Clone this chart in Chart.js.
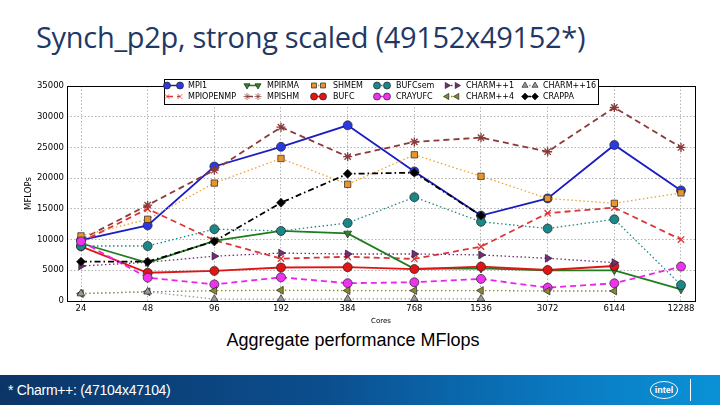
<!DOCTYPE html>
<html>
<head>
<meta charset="utf-8">
<script src="https://cdn.jsdelivr.net/npm/chart.js@4.4.1/dist/chart.umd.min.js"></script>
<style>
  html, body { margin: 0; padding: 0; background: #fff; }
  #slide { position: relative; width: 720px; height: 405px; overflow: hidden; }
  #title {
    position: absolute; left: 36px; top: 17px; margin: 0;
    font-family: "Open Sans", "Noto Sans", sans-serif; font-weight: 400;
    font-size: 29px; color: #1f3864; white-space: nowrap; letter-spacing: -0.3px;
  }
  #caption {
    position: absolute; left: 0; width: 706px; top: 330px; text-align: center;
    font-family: "Liberation Sans", Arial, sans-serif; font-size: 18px; color: #000;
  }
  #banner {
    position: absolute; left: 0; top: 375px; width: 720px; height: 30px;
    background: linear-gradient(to right, #0c3567 0%, #0b4e8e 45%, #0a7cc4 80%, #0a92d6 100%);
  }
  #note {
    position: absolute; left: 8px; top: 7px; color: #fff;
    font-family: "Liberation Sans", Arial, sans-serif; font-size: 14px; letter-spacing: -0.3px;
  }
  #logo {
    position: absolute; left: 650px; top: 6px; width: 26px; height: 16px;
    border: 1.5px solid #fff; border-radius: 50%; color: #fff;
    font-family: "Liberation Sans", Arial, sans-serif; font-size: 9px; font-weight: bold;
    text-align: center; line-height: 16px;
  }
  #bar { position: absolute; left: 690px; top: 4px; width: 1px; height: 22px; background: #fff; }
  #chart { position: absolute; left: 0; top: 0; }
</style>
</head>
<body>
<div id="slide">
  <div id="title">Synch_p2p, strong scaled (49152x49152*)</div>
  <div id="caption">Aggregate performance MFlops</div>
  <div id="banner">
    <div id="note">* Charm++: (47104x47104)</div>
    <div id="logo">intel</div>
    <div id="bar"></div>
  </div>
  <canvas id="chart" width="720" height="405"></canvas>
</div>
<script>
// cores on the x axis
const cores = ["24", "48", "96", "192", "384", "768", "1536", "3072", "6144", "12288"];
const yTicks = [0, 5000, 10000, 15000, 20000, 25000, 30000, 35000];

// MFLOPs per run
const mpi1      = [9900, 12300, 21900, 25100, 28600, 21100, 13900, 16700, 25400, 18000];
const mpiOpenmp = [9600, 15000, 9900, 6900, 7200, 6850, 8850, 14300, 15200, 10000];
const mpiRma    = [9400, 6200, 9800, 11400, 11000, 5250, 5300, 5000, 5000, 1900];
const mpiShm    = [10000, 15600, 21300, 28300, 23500, 25900, 26600, 24300, 31500, 25000];
const shmem     = [10600, 13300, 19200, 23200, 19000, 23800, 20300, 16700, 15900, 17600];
const bufc      = [8900, 4600, 4900, 5450, 5500, 5200, 5600, 5050, 5700, null];
const bufcSem   = [8950, 8950, 11700, 11400, 12700, 16900, 12900, 11800, 13300, 2600];
const crayUfc   = [9700, 3800, 2700, 3850, 2900, 3050, 3600, 2170, 2880, 5600];
const charm1    = [5700, 6300, 7300, 7800, 7650, 7650, 7500, 6950, 6250, null];
const charm4    = [1200, 1500, 1680, 1750, 1700, 1700, 1700, 1630, 1630, null];
const charm16   = [1200, 1500, 300, 300, 330, 330, 330, null, null, null];
const crappa    = [6400, 6400, 9700, 16000, 20700, 20900, 13900, null, null, null];

const DASH = [6, 4], DOT = [1.5, 2.5], DASHDOT = [6, 3, 1.5, 3];

const series = [
  { label: "MPI1",      data: mpi1,      color: "#1c1cc4", fill: "#2a3ae0", dash: [],      style: "circle",   rot: 0 },
  { label: "MPIOPENMP", data: mpiOpenmp, color: "#dd3535", fill: "#dd3535", dash: DASH,    style: "crossRot", rot: 0 },
  { label: "MPIRMA",    data: mpiRma,    color: "#1e7d1e", fill: "#2a8a2a", dash: [],      style: "triangle", rot: 180 },
  { label: "MPISHM",    data: mpiShm,    color: "#8b3a3a", fill: "#8b3a3a", dash: DASH,    style: "star",     rot: 0 },
  { label: "SHMEM",     data: shmem,     color: "#f0a030", fill: "#ea952a", dash: DOT,     style: "rect",     rot: 0 },
  { label: "BUFC",      data: bufc,      color: "#e01515", fill: "#e01515", dash: [],      style: "circle",   rot: 0 },
  { label: "BUFCsem",   data: bufcSem,   color: "#178a8a", fill: "#1a8888", dash: DOT,     style: "circle",   rot: 0 },
  { label: "CRAYUFC",   data: crayUfc,   color: "#ee22ee", fill: "#ee33ee", dash: DASH,    style: "circle",   rot: 0 },
  { label: "CHARM++1",  data: charm1,    color: "#7a2a7a", fill: "#7a2a7a", dash: DOT,     style: "triangle", rot: 90 },
  { label: "CHARM++4",  data: charm4,    color: "#8a8a22", fill: "#8a8a2a", dash: DOT,     style: "triangle", rot: -90 },
  { label: "CHARM++16", data: charm16,   color: "#9a9a9a", fill: "#9a9a9a", dash: DOT,     style: "triangle", rot: 0 },
  { label: "CRAPPA",    data: crappa,    color: "#000000", fill: "#000000", dash: DASHDOT, style: "rectRot",  rot: 0 }
];

function markerOpts(s, r) {
  const stroked = s.style === "star" || s.style === "crossRot";
  return { pointStyle: s.style, rotation: s.rot, radius: r, borderWidth: stroked ? 1.2 : 0.7 };
}

// full frame round the plot
const frame = {
  id: "frame",
  afterDraw(chart) {
    const { ctx, chartArea: a } = chart;
    ctx.save();
    ctx.strokeStyle = "#000";
    ctx.lineWidth = 1;
    ctx.strokeRect(a.left + 0.5, a.top + 0.5, a.right - a.left, a.bottom - a.top);
    ctx.restore();
  }
};

// matplotlib-like legend, 6 columns x 2 rows, sitting on the top edge
const legendBox = {
  id: "legendBox",
  afterDraw(chart) {
    const { ctx, chartArea: a } = chart;
    const x0 = a.left + 97, y0 = a.top - 7, w = 434, h = 25;
    const m1 = [3, 83, 150, 213, 283, 361];
    const m2 = [16, 94, 159, 223, 293, 371];
    const tx = [24, 103, 169, 232, 302, 379];
    ctx.save();
    ctx.fillStyle = "#fff";
    ctx.fillRect(x0, y0, w, h);
    ctx.strokeStyle = "#000";
    ctx.lineWidth = 1;
    ctx.strokeRect(x0 + 0.5, y0 + 0.5, w, h);
    ctx.font = "8px 'DejaVu Sans'";
    ctx.textBaseline = "middle";
    series.forEach((s, i) => {
      const col = Math.floor(i / 2), row = i % 2;
      const y = y0 + 6.5 + row * 11;
      const xa = x0 + m1[col], xb = x0 + m2[col];
      ctx.strokeStyle = s.color;
      ctx.lineWidth = 1.5;
      ctx.setLineDash(s.dash);
      ctx.beginPath(); ctx.moveTo(xa, y); ctx.lineTo(xb, y); ctx.stroke();
      ctx.setLineDash([]);
      [xa, xb].forEach(x => {
        ctx.fillStyle = s.fill;
        ctx.strokeStyle = s.style === "star" || s.style === "crossRot" ? s.color : "#222";
        ctx.lineWidth = 0.7;
        if (Chart.helpers && Chart.helpers.drawPoint) {
          Chart.helpers.drawPoint(ctx, markerOpts(s, 3.5), x, y);
        } else {
          ctx.beginPath(); ctx.arc(x, y, 3.5, 0, Math.PI * 2); ctx.fill();
        }
      });
      ctx.fillStyle = "#000";
      ctx.fillText(s.label, x0 + tx[col], y + 0.5);
    });
    ctx.restore();
  }
};

const ctx = document.getElementById("chart").getContext("2d");

new Chart(ctx, {
  type: "line",
  data: {
    datasets: series.map((s, i) => ({
      label: s.label,
      data: s.data.map((v, k) => ({ x: k, y: v })),
      borderColor: s.color,
      borderWidth: s.dash === DOT ? 1.3 : 1.8,
      borderDash: s.dash,
      pointStyle: s.style,
      pointRotation: s.rot,
      pointRadius: 4.5,
      pointBackgroundColor: s.fill,
      pointBorderColor: s.style === "star" || s.style === "crossRot" ? s.color : "#222",
      pointBorderWidth: s.style === "star" || s.style === "crossRot" ? 1.3 : 0.7,
      fill: false,
      tension: 0,
      order: -i
    }))
  },
  options: {
    responsive: false,
    animation: false,
    layout: { padding: { top: 86, right: 25, bottom: 74, left: 0 } },
    plugins: {
      legend: { display: false },
      tooltip: { enabled: false }
    },
    scales: {
      x: {
        type: "linear",
        min: -0.21,
        max: 9.21,
        afterBuildTicks: scale => { scale.ticks = cores.map((c, k) => ({ value: k })); },
        afterFit: scale => { scale.height = 30; },
        ticks: {
          callback: v => cores[v],
          autoSkip: false,
          maxRotation: 0,
          padding: 3,
          color: "#000",
          font: { family: "DejaVu Sans", size: 8.5 }
        },
        grid: { color: "#a0a0a0", lineWidth: 0.8, drawTicks: false },
        border: { display: false, dash: [1.5, 2] },
        title: {
          display: true,
          text: "Cores",
          color: "#000",
          font: { family: "DejaVu Sans", size: 7 },
          padding: { top: 0, bottom: 6 }
        }
      },
      y: {
        min: 0,
        max: 35000,
        afterBuildTicks: scale => { scale.ticks = yTicks.map(v => ({ value: v })); },
        afterFit: scale => { scale.width = 67; },
        ticks: {
          callback: v => String(v),
          padding: 3,
          color: "#000",
          font: { family: "DejaVu Sans", size: 8.5 }
        },
        grid: { color: "#a0a0a0", lineWidth: 0.8, drawTicks: false },
        border: { display: false, dash: [1.5, 2] },
        title: {
          display: true,
          text: "MFLOPs",
          color: "#000",
          font: { family: "DejaVu Sans", size: 8.5 },
          padding: { top: 24, bottom: 0 }
        }
      }
    }
  },
  plugins: [frame, legendBox]
});
</script>
</body>
</html>
